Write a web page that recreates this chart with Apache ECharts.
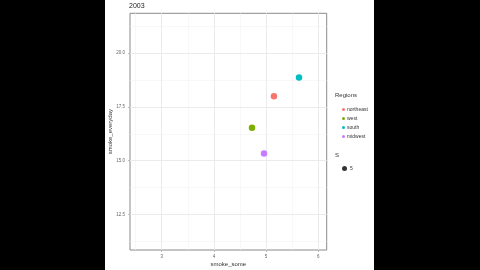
<!DOCTYPE html>
<html><head><meta charset="utf-8">
<script src="https://cdn.jsdelivr.net/npm/echarts@6/dist/echarts.min.js"></script>
<style>
html,body{margin:0;padding:0;background:#000;width:480px;height:270px;overflow:hidden}
#chart{position:absolute;left:105px;top:0;width:269px;height:270px;background:#fff}
</style></head><body>
<div id="chart"></div>
<script>
const title = '2003';
const regions = ['northeast', 'west', 'south', 'midwest'];
const regionColors = ['#F8766D', '#7CAE00', '#00BFC4', '#C77CFF'];
const smokeSome = [5.15, 4.73, 5.63, 4.96];
const smokeEveryday = [18.0, 16.53, 18.87, 15.33];
const sizeLabel = '5';
const xTicks = [3, 4, 5, 6];
const xMinor = [2.5, 3.5, 4.5, 5.5];
const yTicks = [12.5, 15, 17.5, 20];
const yMinor = [11.25, 13.75, 16.25, 18.75, 21.25];

const chart = echarts.init(document.getElementById('chart'), null, {renderer: 'canvas'});
const font = 'Liberation Sans, Arial, sans-serif';

const series = regions.map((r, i) => ({
  name: r, type: 'scatter', symbol: 'circle', symbolSize: 6.5,
  itemStyle: {color: regionColors[i], opacity: 1},
  data: [[smokeSome[i], smokeEveryday[i]]], z: 5
}));
series.push({
  name: sizeLabel, type: 'scatter', symbolSize: 5, itemStyle: {color: '#000'}, data: []
});
series.push({
  name: 'grid', type: 'scatter', data: [], silent: true, z: 1,
  markLine: {
    silent: true, symbol: 'none', label: {show: false}, animation: false,
    data: [
      ...xMinor.map(v => ({xAxis: v, lineStyle: {color: '#f3f3f3', width: 0.6, type: 'solid'}})),
      ...yMinor.map(v => ({yAxis: v, lineStyle: {color: '#f3f3f3', width: 0.6, type: 'solid'}})),
      ...xTicks.map(v => ({xAxis: v, lineStyle: {color: '#ebebeb', width: 1, type: 'solid'}})),
      ...yTicks.map(v => ({yAxis: v, lineStyle: {color: '#ebebeb', width: 1, type: 'solid'}}))
    ]
  }
});

chart.setOption({
  animation: false,
  backgroundColor: '#fff',
  title: {text: title, left: 24, top: 3, padding: 0, textStyle: {fontSize: 7, fontWeight: 'normal', color: '#222', fontFamily: font}},
  grid: {left: 25, top: 13.3, width: 196.7, height: 236.7, containLabel: false, outerBoundsMode: 'none',
         show: true, borderColor: '#8a8a8a', borderWidth: 1, backgroundColor: 'transparent'},
  xAxis: {
    type: 'value', min: 2.394, max: 6.16,
    name: 'smoke_some', nameLocation: 'middle', nameGap: 11, nameMoveOverlap: false,
    nameTextStyle: {fontSize: 6, color: '#333', fontFamily: font},
    axisLine: {show: false},
    axisTick: {show: true, length: 2, lineStyle: {color: '#999', width: 0.6}, customValues: xTicks},
    axisLabel: {fontSize: 4.5, color: '#666', margin: 4, fontFamily: font, customValues: xTicks, formatter: v => String(v)},
    splitLine: {show: false}
  },
  yAxis: {
    type: 'value', min: 10.84, max: 21.86,
    name: 'smoke_everyday', nameLocation: 'middle', nameGap: 17, nameRotate: 90, nameMoveOverlap: false,
    nameTextStyle: {fontSize: 6, color: '#333', fontFamily: font},
    axisLine: {show: false},
    axisTick: {show: true, length: 2, lineStyle: {color: '#999', width: 0.6}, customValues: yTicks},
    axisLabel: {fontSize: 4.5, color: '#666', margin: 5, fontFamily: font, customValues: yTicks, formatter: v => v.toFixed(1)},
    splitLine: {show: false}
  },
  legend: [
    {
      data: regions, orient: 'vertical', left: 232, top: 102, itemWidth: 3, itemHeight: 3, itemGap: 4,
      icon: 'circle', textStyle: {fontSize: 5, color: '#333', fontFamily: font, padding: [0, 0, 0, -3]}, selectedMode: false
    },
    {
      data: [sizeLabel], orient: 'vertical', left: 232, top: 161, itemWidth: 5, itemHeight: 5,
      icon: 'circle', textStyle: {fontSize: 5, color: '#333', fontFamily: font, padding: [0, 0, 0, -2]}, selectedMode: false
    }
  ],
  graphic: [
    {type: 'text', left: 230, top: 92, style: {text: 'Regions', fontSize: 6, fill: '#333', fontFamily: font}},
    {type: 'text', left: 230, top: 152, style: {text: 'S', fontSize: 6, fill: '#333', fontFamily: font}}
  ],
  series: series
});
</script>
</body></html>
